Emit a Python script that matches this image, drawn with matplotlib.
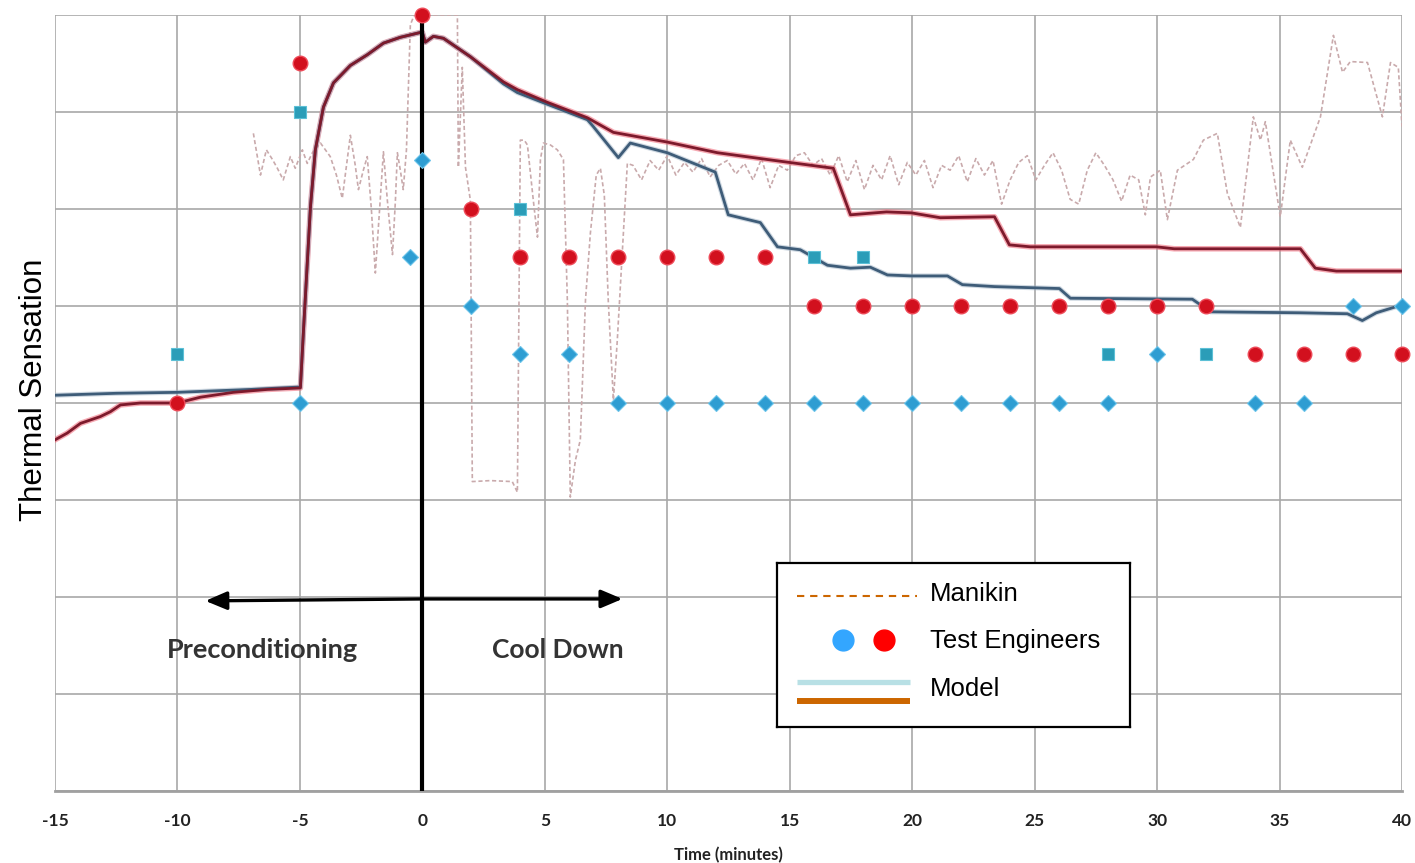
import matplotlib
matplotlib.use("Agg")
import matplotlib.pyplot as plt

# ---------------- data ----------------
x_ticks = [-15, -10, -5, 0, 5, 10, 15, 20, 25, 30, 35, 40]

# Model (warm / red) curve
model_red_t = [-15, -14.5, -13.96, -13.15, -12.74, -12.33, -11.51, -10.0, -9.06, -7.72, -6.33, -4.98,
               -4.86, -4.57, -4.37, -4.04, -3.63, -2.94, -2.25, -1.59, -0.90, -0.08, 0.0,
               0.12, 0.45, 0.86, 1.96, 3.31, 3.88, 5.1, 6.74, 7.8, 8.9, 10.0, 12.05, 14.09, 16.78,
               17.48, 18.95, 19.97, 21.15, 23.36, 23.97, 24.83, 29.97, 30.7, 35.85, 36.46, 37.32, 39.98]
model_red_y = [-0.38, -0.31, -0.21, -0.14, -0.09, -0.02, 0.0, 0.0, 0.06, 0.11, 0.14, 0.155,
               0.72, 2.02, 2.61, 3.05, 3.30, 3.48, 3.59, 3.71, 3.77, 3.82, 3.82,
               3.72, 3.78, 3.76, 3.57, 3.31, 3.23, 3.10, 2.94, 2.79, 2.74, 2.69, 2.58, 2.51, 2.42,
               1.94, 1.97, 1.96, 1.91, 1.92, 1.63, 1.61, 1.61, 1.59, 1.59, 1.39, 1.36, 1.36]

# Model (cool / blue) curve
model_blue_t = [-15, -12.5, -10, -7, -4.98, -4.86, -4.57, -4.37, -4.04, -3.63, -2.94, -2.25, -1.59,
                -0.90, -0.08, 0.0, 0.12, 0.45, 0.86, 1.96, 3.31, 3.88, 5.1, 6.74, 6.98, 8.0, 8.49,
                10.0, 11.96, 12.49, 13.8, 14.5, 15.43, 16.54, 17.48, 18.29, 18.99, 19.97, 21.44,
                22.05, 23.36, 26.01, 26.46, 31.44, 32.18, 35.85, 37.77, 38.38, 38.95, 39.98]
model_blue_y = [0.08, 0.10, 0.11, 0.14, 0.165, 0.72, 2.02, 2.61, 3.05, 3.30, 3.48, 3.59, 3.71,
                3.77, 3.82, 3.82, 3.72, 3.78, 3.76, 3.57, 3.29, 3.20, 3.08, 2.92, 2.85, 2.53, 2.68,
                2.58, 2.38, 1.94, 1.86, 1.61, 1.58, 1.42, 1.39, 1.40, 1.32, 1.31, 1.31,
                1.22, 1.20, 1.18, 1.08, 1.07, 0.94, 0.93, 0.92, 0.85, 0.93, 1.01]

# Manikin (dashed)
manikin_t = [-6.90, -6.61, -6.37, -6.12, -5.92, -5.68, -5.39, -5.19, -4.90, -4.70, -4.49, -4.16,
             -3.96, -3.76, -3.51, -3.27, -2.94, -2.74, -2.61, -2.41, -2.25, -2.08, -1.92, -1.72,
             -1.59, -1.43, -1.22, -1.10, -1.02, -0.90, -0.78, -0.65, -0.49, -0.33, 0.73, 1.43,
             1.47, 1.63, 1.76, 1.96, 2.04, 2.78, 3.67, 3.88, 4.00, 4.16, 4.29, 4.53, 4.70, 4.82,
             4.94, 5.23, 5.51, 5.76, 5.92, 6.04, 6.25, 6.45, 6.66, 6.86, 7.10, 7.27, 7.43, 7.59,
             7.80, 7.96, 8.17, 8.37,
             8.6, 8.95, 9.3, 9.65, 10.0, 10.35, 10.7, 11.05, 11.4, 11.75, 12.1, 12.45, 12.8,
             13.15, 13.5, 13.85, 14.2, 14.55, 14.9, 15.25, 15.6, 15.95, 16.3, 16.65, 17.0, 17.35,
             17.7, 18.05, 18.4, 18.75, 19.1, 19.45, 19.8, 20.15, 20.5, 20.85, 21.2, 21.55, 21.9,
             22.25, 22.6, 22.95, 23.3, 23.65, 24.0, 24.35, 24.7, 25.05, 25.4, 25.75, 26.1, 26.45,
             26.8, 27.15, 27.5, 27.85, 28.2, 28.55, 28.9, 29.25, 29.52, 29.73, 30.13, 30.42,
             30.83, 31.48, 31.89, 32.46, 32.87, 33.40, 33.93, 34.22, 34.42, 35.03, 35.44, 35.93,
             36.67, 37.20, 37.57, 37.89, 38.59, 39.20, 39.53, 39.85, 40.0]
manikin_y = [2.78, 2.35, 2.61, 2.51, 2.42, 2.30, 2.54, 2.42, 2.61, 2.47, 2.58, 2.68,
             2.61, 2.54, 2.35, 2.11, 2.76, 2.45, 2.20, 2.40, 2.54, 1.99, 1.34, 2.09,
             2.59, 2.09, 1.53, 2.09, 2.58, 2.40, 2.20, 2.61, 3.90, 4.0, 4.0, 4.0,
             2.43, 3.46, 2.43, 2.09, -0.81, -0.80, -0.81, -0.92, 2.71, 2.71, 2.66, 2.09, 1.71, 2.51,
             2.68, 2.66, 2.61, 2.51, 1.06, -0.97, -0.59, -0.38, 1.06, 1.75, 2.35, 2.42, 2.14, 1.06,
             0.03, 0.65, 1.58, 2.47,
             2.45, 2.30, 2.50, 2.40, 2.55, 2.35, 2.48, 2.38, 2.52, 2.33, 2.45, 2.50, 2.36,
             2.47, 2.30, 2.52, 2.22, 2.45, 2.40, 2.55, 2.58, 2.45, 2.52, 2.35, 2.55, 2.28,
             2.50, 2.20, 2.45, 2.30, 2.55, 2.25, 2.48, 2.35, 2.50, 2.22, 2.45, 2.40, 2.55,
             2.28, 2.52, 2.35, 2.50, 2.05, 2.30, 2.48, 2.55, 2.30, 2.45, 2.58, 2.40, 2.10,
             2.05, 2.40, 2.58, 2.45, 2.30, 2.08, 2.35, 2.30, 1.94, 2.33, 2.40, 1.89,
             2.40, 2.51, 2.71, 2.78, 2.16, 1.81, 2.95, 2.71, 2.90, 1.92, 2.71, 2.43,
             2.95, 3.79, 3.41, 3.52, 3.51, 2.95, 3.51, 3.46, 2.85]

# Test engineers
red_circle_t = [-10, -5, 0, 2, 4, 6, 8, 10, 12, 14, 16, 18, 20, 22, 24, 26, 28, 30, 32, 34, 36, 38, 40]
red_circle_y = [0, 3.5, 4, 2, 1.5, 1.5, 1.5, 1.5, 1.5, 1.5, 1, 1, 1, 1, 1, 1, 1, 1, 1, 0.5, 0.5, 0.5, 0.5]

teal_square_t = [-10, -5, 4, 16, 18, 28, 32]
teal_square_y = [0.5, 3, 2, 1.5, 1.5, 0.5, 0.5]

blue_diamond_t = [-5, -0.5, 0, 2, 4, 6, 8, 10, 12, 14, 16, 18, 20, 22, 24, 26, 28, 30, 34, 36, 38, 40]
blue_diamond_y = [0, 1.5, 2.5, 1, 0.5, 0.5, 0, 0, 0, 0, 0, 0, 0, 0, 0, 0, 0, 0.5, 0, 0, 1, 1]

# ---------------- figure ----------------
W, H = 1415, 863
fig = plt.figure(figsize=(W / 100, H / 100), dpi=100)
L, R, T, B = 55, 1402, 15, 791
ax = fig.add_axes([L / W, 1 - B / H, (R - L) / W, (B - T) / H])
ax.set_xlim(-15, 40)
ax.set_ylim(-4, 4)

ax.set_xticks(x_ticks)
ax.set_xticklabels([str(v) for v in x_ticks], fontfamily="Lato", fontweight="bold",
                   fontsize=12.5, color="#222222")
ax.set_yticks(range(-4, 5))
ax.set_yticklabels([])
ax.tick_params(axis="both", length=0, pad=16)
ax.grid(True, color="#a8a8a8", linewidth=1.2)
ax.set_axisbelow(True)
for s in ["left", "right", "top"]:
    ax.spines[s].set_visible(False)
ax.spines["bottom"].set_color("#a0a0a0")
ax.spines["bottom"].set_linewidth(2.0)

ax.set_xlabel("Time (minutes)", fontfamily="Lato", fontweight="bold", fontsize=12,
              color="#222222", labelpad=13)
ax.set_ylabel("Thermal Sensation", fontfamily="Liberation Sans", fontsize=22.5, color="black")
ax.yaxis.set_label_coords(-0.0045, 0.517)

# manikin
ax.plot(manikin_t, manikin_y, color="#c9aaac", linewidth=1.2, linestyle=(0, (2.5, 1.6)),
        zorder=2)

# model curves (with a soft halo)
ax.plot(model_red_t, model_red_y, color="#f07080", linewidth=4.0, alpha=0.6, zorder=3,
        solid_joinstyle="round")
ax.plot(model_blue_t, model_blue_y, color="#9fb2c4", linewidth=3.6, alpha=0.5, zorder=3,
        solid_joinstyle="round")
ax.plot(model_blue_t, model_blue_y, color="#3e5c78", linewidth=2.0, zorder=4,
        solid_joinstyle="round")
ax.plot(model_red_t, model_red_y, color="#7d1a2c", linewidth=2.0, zorder=5,
        solid_joinstyle="round")

# vertical line at t=0
ax.axvline(0, color="black", linewidth=3.0, zorder=6)

# test engineers
ax.plot(red_circle_t, red_circle_y, linestyle="none", marker="o", markersize=10.5,
        markerfacecolor="#d2101e", markeredgecolor="#ee4a58", markeredgewidth=1.0,
        zorder=7, clip_on=False)
ax.plot(teal_square_t, teal_square_y, linestyle="none", marker="s", markersize=8.5,
        markerfacecolor="#2b9db8", markeredgecolor="#5cc0d6", markeredgewidth=0.8,
        zorder=7, clip_on=False)
ax.plot(blue_diamond_t, blue_diamond_y, linestyle="none", marker="D", markersize=8.3,
        markerfacecolor="#2e9dd2", markeredgecolor="#6cc4ea", markeredgewidth=0.8,
        zorder=7, clip_on=False)

# arrows and phase labels
arrow_kw = dict(arrowstyle="-|>,head_length=1.3,head_width=0.55", color="black", lw=2.4,
                shrinkA=0, shrinkB=0)
ax.annotate("", xy=(-8.86, -2.04), xytext=(0, -2.02), arrowprops=arrow_kw, zorder=8)
ax.annotate("", xy=(8.17, -2.02), xytext=(0, -2.02), arrowprops=arrow_kw, zorder=8)
ax.text(-6.53, -2.55, "Preconditioning", ha="center", va="center", fontfamily="Lato",
        fontweight="bold", fontsize=19.5, color="#333333", zorder=8)
ax.text(5.55, -2.55, "Cool Down", ha="center", va="center", fontfamily="Lato",
        fontweight="bold", fontsize=19, color="#333333", zorder=8)

# ---------------- custom legend ----------------
lx0, ly0, lx1, ly1 = 777, 563, 1130, 727
lg = fig.add_axes([lx0 / W, 1 - ly1 / H, (lx1 - lx0) / W, (ly1 - ly0) / H])
lg.set_xlim(0, lx1 - lx0)
lg.set_ylim(ly1 - ly0, 0)
lg.set_xticks([])
lg.set_yticks([])
lg.set_facecolor("white")
for s in lg.spines.values():
    s.set_linewidth(1.6)
    s.set_color("black")
lg.plot([20, 140], [33, 33], color="#cc6600", linewidth=1.5, linestyle=(0, (3.5, 2.8)))
lg.plot([66], [77], marker="o", markersize=15, color="#33a6ff", linestyle="none")
lg.plot([107], [77], marker="o", markersize=15, color="#ff0000", linestyle="none")
lg.plot([20, 133], [119, 119], color="#b8e0e5", linewidth=3.8, solid_capstyle="butt")
lg.plot([20, 133], [138, 138], color="#cc6600", linewidth=4.3, solid_capstyle="butt")
lfont = dict(fontfamily="Liberation Sans", fontsize=18.5, color="black", va="center", ha="left")
lg.text(153, 31, "Manikin", **lfont)
lg.text(153, 78, "Test Engineers", **lfont)
lg.text(153, 126, "Model", **lfont)

fig.savefig("out.png", dpi=100, facecolor="white")
